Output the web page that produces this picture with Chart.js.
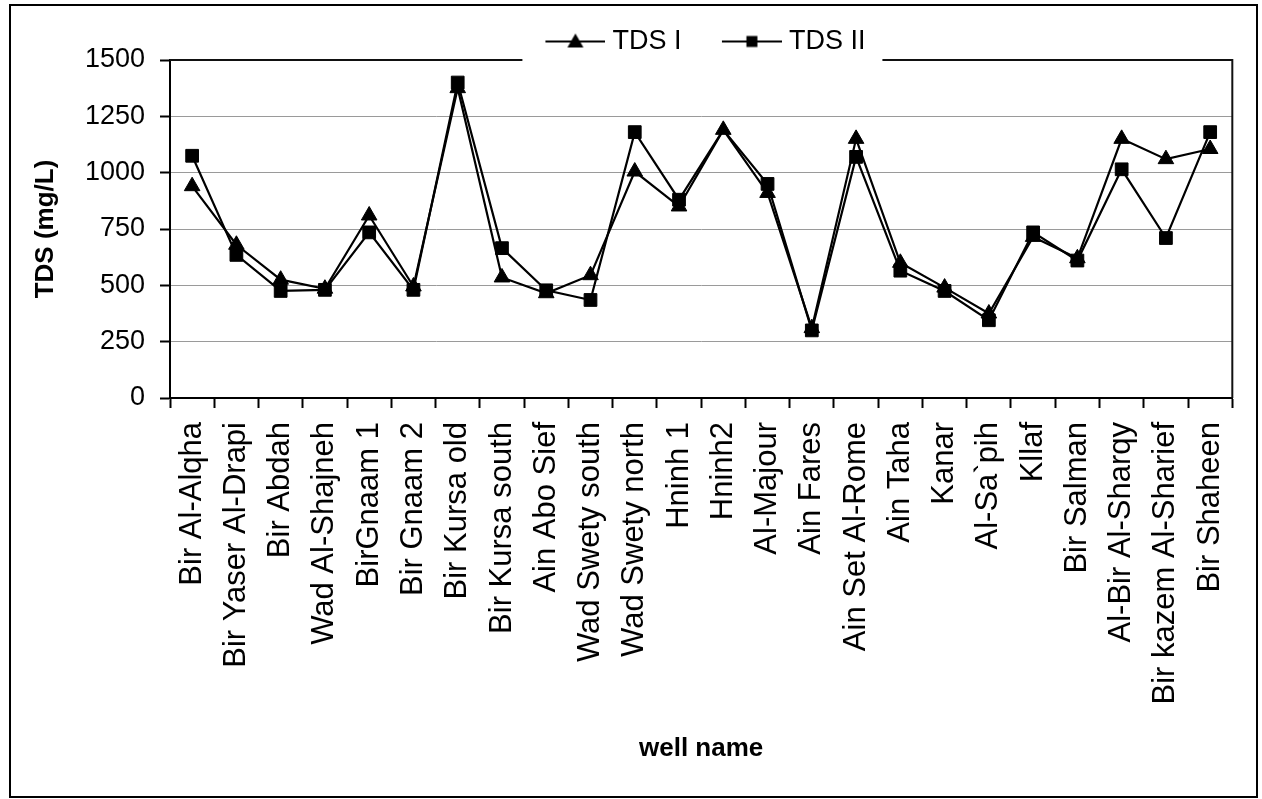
<!DOCTYPE html>
<html>
<head>
<meta charset="utf-8">
<script src="https://cdn.jsdelivr.net/npm/chart.js@4/dist/chart.umd.min.js"></script>
<style>
  html, body { margin: 0; padding: 0; background: #fff; }
  #wrap { width: 1262px; height: 799px; position: relative; }
</style>
</head>
<body>
<div id="wrap"><canvas id="tdsChart"></canvas></div>
<script>
// Well names along the x axis
const wellNames = [
  'Bir Al-Alqha', 'Bir Yaser Al-Drapi', 'Bir Abdah', 'Wad Al-Shajneh', 'BirGnaam 1',
  'Bir Gnaam 2', 'Bir Kursa old', 'Bir Kursa south', 'Ain Abo Sief', 'Wad Swety south',
  'Wad Swety north', 'Hninh 1', 'Hninh2', 'Al-Majour', 'Ain Fares', 'Ain Set Al-Rome',
  'Ain Taha', 'Kanar', 'Al-Sa`pih', 'Kllaf', 'Bir Salman', 'Al-Bir Al-Sharqy',
  'Bir kazem Al-Sharief', 'Bir Shaheen'
];

// Total dissolved solids (mg/L), first and second sampling
const tdsI  = [940, 680, 525, 485, 810, 495, 1375, 535, 465, 545, 1005, 850, 1190, 910, 310, 1150, 600, 490, 375, 715, 620, 1150, 1060, 1105];
const tdsII = [1075, 635, 475, 480, 735, 480, 1400, 665, 478, 435, 1180, 880, 1190, 950, 300, 1070, 565, 475, 345, 735, 610, 1015, 710, 1180];

const seriesNames = ['TDS I', 'TDS II'];
const yMin = 0, yMax = 1500, yStep = 250;

const FONT = "'Liberation Sans', Arial, Helvetica, sans-serif";
const LEGEND_SYMBOL_W = 86;
const LEGEND_SHIFT = -12;
const MARKER_R = 9;

// Legend symbol: a short line with the series marker in the middle
function legendSymbol(style) {
  const c = document.createElement('canvas');
  c.width = LEGEND_SYMBOL_W + 13;
  c.height = 22;
  const g = c.getContext('2d');
  const x0 = c.width - 60, x1 = c.width, cx = (x0 + x1) / 2, cy = 11;
  g.strokeStyle = '#000';
  g.lineWidth = 2;
  g.beginPath(); g.moveTo(x0, cy); g.lineTo(x1, cy); g.stroke();
  g.fillStyle = '#000';
  if (style === 'triangle') {
    g.beginPath(); g.moveTo(cx, cy - 8); g.lineTo(cx + 8, cy + 6); g.lineTo(cx - 8, cy + 6); g.closePath(); g.fill();
  } else {
    g.fillRect(cx - 5.5, cy - 5.5, 11, 11);
  }
  return c;
}
const legendSymbols = [legendSymbol('triangle'), legendSymbol('rect')];

// White page, outer frame and the plot frame with an opening for the legend
const framePlugin = {
  id: 'frame',
  beforeDraw(chart) {
    const { ctx, width, height } = chart;
    ctx.save();
    ctx.fillStyle = '#fff';
    ctx.fillRect(0, 0, width, height);
    ctx.restore();
  },
  afterLayout(chart) {
    const lg = chart.legend;
    if (lg) { lg.left += LEGEND_SHIFT; lg.right += LEGEND_SHIFT; }
  },
  afterDraw(chart) {
    const { ctx, chartArea: a } = chart;
    const hb = chart.legend.legendHitBoxes;
    const gapL = hb[0].left + LEGEND_SYMBOL_W / 2 - (LEGEND_SYMBOL_W + 13) / 2 + (LEGEND_SYMBOL_W + 13 - 60) - 23;
    const last = hb[hb.length - 1];
    const gapR = last.left + last.width + 17;
    ctx.save();
    ctx.strokeStyle = '#111';
    ctx.lineWidth = 2;
    ctx.beginPath();
    ctx.moveTo(a.left, a.top); ctx.lineTo(gapL, a.top);
    ctx.moveTo(gapR, a.top); ctx.lineTo(a.right, a.top); ctx.lineTo(a.right, a.bottom);
    ctx.stroke();
    ctx.strokeStyle = '#000';
    ctx.strokeRect(10, 5, 1247, 792);
    ctx.restore();
  }
};

const common = {
  borderColor: '#000',
  borderWidth: 2.2,
  pointBackgroundColor: '#000',
  pointBorderColor: '#000',
  pointBorderWidth: 1,
  pointHoverRadius: MARKER_R,
  tension: 0,
  fill: false
};

new Chart(document.getElementById('tdsChart'), {
  type: 'line',
  data: {
    labels: wellNames,
    datasets: [
      Object.assign({ label: seriesNames[0], data: tdsI, pointStyle: 'triangle', pointRadius: MARKER_R }, common),
      Object.assign({
        label: seriesNames[1], data: tdsII, pointStyle: 'rect',
        // a square sitting exactly under a triangle stays hidden behind it
        pointRadius: (ctx) => (tdsII[ctx.dataIndex] === tdsI[ctx.dataIndex] ? 0 : MARKER_R)
      }, common)
    ]
  },
  options: {
    responsive: true,
    maintainAspectRatio: false,
    animation: false,
    layout: { padding: { top: 20, left: 20, right: 24, bottom: 10 } },
    plugins: {
      tooltip: { enabled: false },
      legend: {
        position: 'top',
        fullSize: false,
        maxHeight: 40,
        labels: {
          usePointStyle: true,
          pointStyleWidth: LEGEND_SYMBOL_W,
          padding: 8,
          color: '#000',
          font: { family: FONT, size: 27 },
          generateLabels(chart) {
            const items = Chart.defaults.plugins.legend.labels.generateLabels(chart);
            items.forEach((it, i) => { it.pointStyle = legendSymbols[i]; });
            return items;
          }
        }
      }
    },
    scales: {
      x: {
        type: 'category',
        offset: true,
        afterFit(scale) { scale.height = 391; },
        grid: {
          offset: true,
          drawOnChartArea: false,
          drawTicks: true,
          tickLength: 10,
          tickColor: '#000',
          tickWidth: 2
        },
        border: { display: true, color: '#000', width: 2 },
        ticks: {
          autoSkip: false,
          minRotation: 90,
          maxRotation: 90,
          padding: 14,
          color: '#000',
          font: { family: FONT, size: 31 }
        },
        title: {
          display: true,
          text: 'well name',
          color: '#000',
          font: { family: FONT, size: 26, weight: 'bold' },
          padding: { top: 0, bottom: 25 }
        }
      },
      y: {
        min: yMin,
        max: yMax,
        afterFit(scale) { scale.width = 150; },
        grid: {
          color(ctx) {
            const v = ctx.tick && ctx.tick.value;
            return (v === yMin || v === yMax) ? 'rgba(0,0,0,0)' : '#9a9a9a';
          },
          lineWidth: 1,
          tickLength: 10,
          tickColor: '#000',
          tickWidth: 2
        },
        border: { display: true, color: '#000', width: 2 },
        ticks: {
          stepSize: yStep,
          padding: 15,
          color: '#000',
          font: { family: FONT, size: 27 },
          callback: (v) => String(v)
        },
        title: {
          display: true,
          text: 'TDS (mg/L)',
          color: '#000',
          font: { family: FONT, size: 26, weight: 'bold' },
          padding: { top: 10, bottom: 0 }
        }
      }
    }
  },
  plugins: [framePlugin]
});
</script>
</body>
</html>
